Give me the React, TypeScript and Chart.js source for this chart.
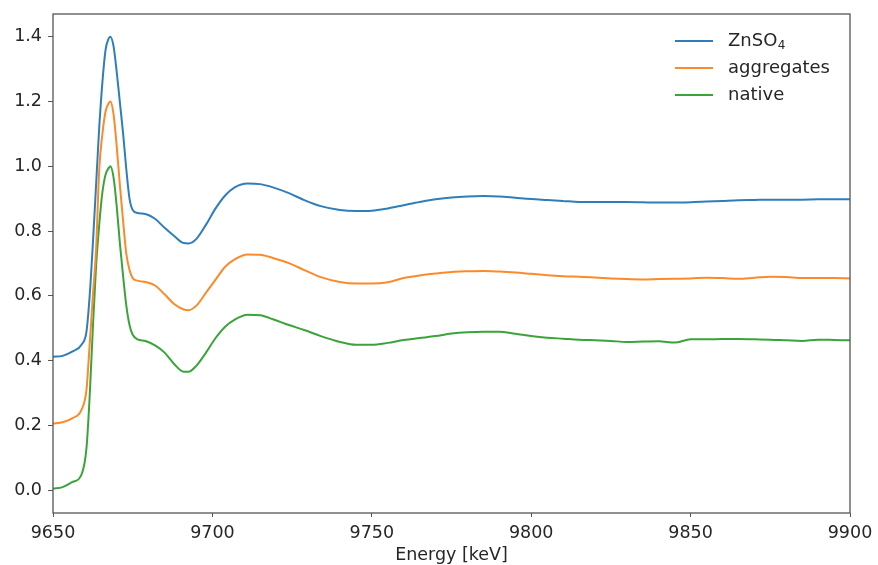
import React, { useEffect, useRef } from 'react';
import { Chart, registerables } from 'chart.js';

Chart.register(...registerables);

const ENERGY = [
  9650, 9653, 9656, 9659, 9660.5, 9661.5, 9662.5, 9663.5, 9664.5, 9665.5, 9666.5, 9667.5, 9668, 9669, 9670,
  9671, 9672, 9673, 9674, 9675, 9676.5, 9679, 9682, 9685, 9688, 9691, 9692.5, 9695, 9698, 9701, 9704, 9707,
  9711, 9715, 9719, 9724, 9729, 9734, 9740, 9745, 9750, 9755, 9760, 9765, 9770, 9775, 9780, 9785, 9790, 9795,
  9800, 9805, 9810, 9815, 9820, 9825, 9830, 9835, 9840, 9845, 9850, 9855, 9860, 9865, 9870, 9875, 9880, 9885,
  9890, 9895, 9900,
];

const ZNSO4 = [
  0.412, 0.415, 0.428, 0.45, 0.49, 0.6, 0.76, 0.94, 1.12, 1.26, 1.36, 1.395, 1.4, 1.37, 1.29,
  1.195, 1.1, 0.99, 0.9, 0.865, 0.856, 0.853, 0.838, 0.81, 0.785, 0.763, 0.762, 0.776, 0.82, 0.87, 0.91, 0.935,
  0.947, 0.945, 0.935, 0.917, 0.895, 0.877, 0.865, 0.862, 0.863, 0.87, 0.88, 0.89, 0.898, 0.904, 0.907, 0.908, 0.907, 0.903,
  0.899, 0.896, 0.893, 0.89, 0.89, 0.89, 0.89, 0.889, 0.888, 0.888, 0.889, 0.891, 0.893, 0.895, 0.896, 0.897, 0.897, 0.897,
  0.898, 0.898, 0.898,
];

const AGGREGATES = [
  0.206, 0.21, 0.222, 0.25, 0.31, 0.45, 0.6, 0.74, 0.99, 1.1, 1.17, 1.195, 1.2, 1.16, 1.06,
  0.94, 0.83, 0.73, 0.68, 0.655, 0.647, 0.643, 0.632, 0.605, 0.575, 0.558, 0.556, 0.57, 0.61, 0.65, 0.69, 0.713,
  0.728, 0.727, 0.717, 0.701, 0.679, 0.658, 0.643, 0.638, 0.638, 0.642, 0.655, 0.663, 0.669, 0.674, 0.676, 0.677, 0.675, 0.672,
  0.668, 0.664, 0.661, 0.659, 0.657, 0.654, 0.652, 0.651, 0.652, 0.653, 0.654, 0.656, 0.655, 0.653, 0.656, 0.659, 0.658, 0.655,
  0.655, 0.655, 0.654,
];

const NATIVE = [
  0.005, 0.01, 0.025, 0.05, 0.13, 0.29, 0.5, 0.69, 0.82, 0.92, 0.975, 0.995, 1.0, 0.965, 0.875,
  0.76, 0.66, 0.57, 0.51, 0.48, 0.466, 0.461, 0.447, 0.425, 0.39, 0.366, 0.366, 0.385, 0.425, 0.47, 0.505, 0.527,
  0.542, 0.54, 0.528, 0.51, 0.494, 0.476, 0.458, 0.449, 0.449, 0.455, 0.464, 0.47, 0.476, 0.484, 0.488, 0.489, 0.489, 0.483,
  0.476, 0.471, 0.468, 0.465, 0.463, 0.461, 0.458, 0.459, 0.46, 0.456, 0.466, 0.466, 0.467, 0.467, 0.466, 0.465, 0.463, 0.461,
  0.465, 0.464, 0.463,
];

const SERIES_NAMES = ['ZnSO4', 'aggregates', 'native'];
const SERIES_COLORS = ['#2f7ebc', '#fb8a2a', '#3aa43a'];
const X_TICKS = [9650, 9700, 9750, 9800, 9850, 9900];
const Y_TICKS = [0, 0.2, 0.4, 0.6, 0.8, 1.0, 1.2, 1.4];
const X_TITLE = 'Energy [keV]';

const FONT = '"DejaVu Sans", sans-serif';
const TEXT_COLOR = '#262626';

const frameAndLegend = {
  id: 'frameAndLegend',
  afterDraw(chart: any) {
    const { ctx, chartArea } = chart;
    ctx.save();
    ctx.strokeStyle = '#555';
    ctx.lineWidth = 1.3;
    ctx.strokeRect(chartArea.left, chartArea.top, chartArea.right - chartArea.left, chartArea.bottom - chartArea.top);

    // legend
    const lx0 = chartArea.left + 622;
    const lx1 = lx0 + 38;
    const tx = lx1 + 15;
    const y0 = 41;
    const dy = 27;
    ctx.textBaseline = 'middle';
    ctx.textAlign = 'left';
    SERIES_NAMES.forEach((name, i) => {
      const y = y0 + i * dy;
      ctx.strokeStyle = SERIES_COLORS[i];
      ctx.lineWidth = 2;
      ctx.beginPath();
      ctx.moveTo(lx0, y);
      ctx.lineTo(lx1, y);
      ctx.stroke();
      ctx.fillStyle = TEXT_COLOR;
      if (name === 'ZnSO4') {
        ctx.font = `18px ${FONT}`;
        ctx.fillText('ZnSO', tx, y);
        const w = ctx.measureText('ZnSO').width;
        ctx.font = `12px ${FONT}`;
        ctx.fillText('4', tx + w + 0.5, y + 5);
      } else {
        ctx.font = `18px ${FONT}`;
        ctx.fillText(name, tx, y);
      }
    });
    ctx.restore();
  },
};

export default function App() {
  const ref = useRef<HTMLCanvasElement>(null);

  useEffect(() => {
    if (!ref.current) return;
    const series = [ZNSO4, AGGREGATES, NATIVE];
    const chart = new Chart(ref.current, {
      type: 'line',
      data: {
        datasets: series.map((vals, i) => ({
          label: SERIES_NAMES[i],
          data: ENERGY.map((x, j) => ({ x, y: vals[j] })),
          borderColor: SERIES_COLORS[i],
          backgroundColor: SERIES_COLORS[i],
          borderWidth: 2,
          pointRadius: 0,
          cubicInterpolationMode: 'monotone' as const,
          fill: false,
        })),
      },
      options: {
        responsive: false,
        animation: false,
        layout: { padding: { top: 14, right: 28, left: 0, bottom: 0 } },
        plugins: {
          legend: { display: false },
          tooltip: { enabled: false },
        },
        scales: {
          x: {
            type: 'linear',
            min: 9650,
            max: 9900,
            afterBuildTicks: (scale: any) => {
              scale.ticks = X_TICKS.map((v) => ({ value: v }));
            },
            afterFit: (scale: any) => {
              scale.height = 52;
              scale.paddingLeft = 0;
              scale.paddingRight = 0;
            },
            ticks: {
              color: TEXT_COLOR,
              font: { family: FONT, size: 17.5 },
              padding: 6,
              maxRotation: 0,
              callback: (v: any) => String(v),
            },
            grid: {
              drawOnChartArea: false,
              tickLength: 4,
              tickColor: '#555',
              color: '#555',
            },
            border: { display: false },
            title: {
              display: true,
              text: X_TITLE,
              color: TEXT_COLOR,
              font: { family: FONT, size: 17.5, lineHeight: 1 },
              padding: { top: 0, bottom: 1 },
            },
          },
          y: {
            type: 'linear',
            min: -0.07,
            max: 1.47,
            afterBuildTicks: (scale: any) => {
              scale.ticks = Y_TICKS.map((v) => ({ value: v }));
            },
            afterFit: (scale: any) => {
              scale.width = 53;
              scale.paddingTop = 0;
              scale.paddingBottom = 0;
            },
            ticks: {
              color: TEXT_COLOR,
              font: { family: FONT, size: 17.5 },
              padding: 6,
              callback: (v: any) => Number(v).toFixed(1),
            },
            grid: {
              drawOnChartArea: false,
              tickLength: 5,
              tickColor: '#555',
              color: '#555',
            },
            border: { display: false },
          },
        },
      },
      plugins: [frameAndLegend],
    });
    return () => chart.destroy();
  }, []);

  return (
    <div style={{ position: 'absolute', left: 0, top: 0, width: 878, height: 565, background: '#fff' }}>
      <canvas ref={ref} width={878} height={565} />
    </div>
  );
}
